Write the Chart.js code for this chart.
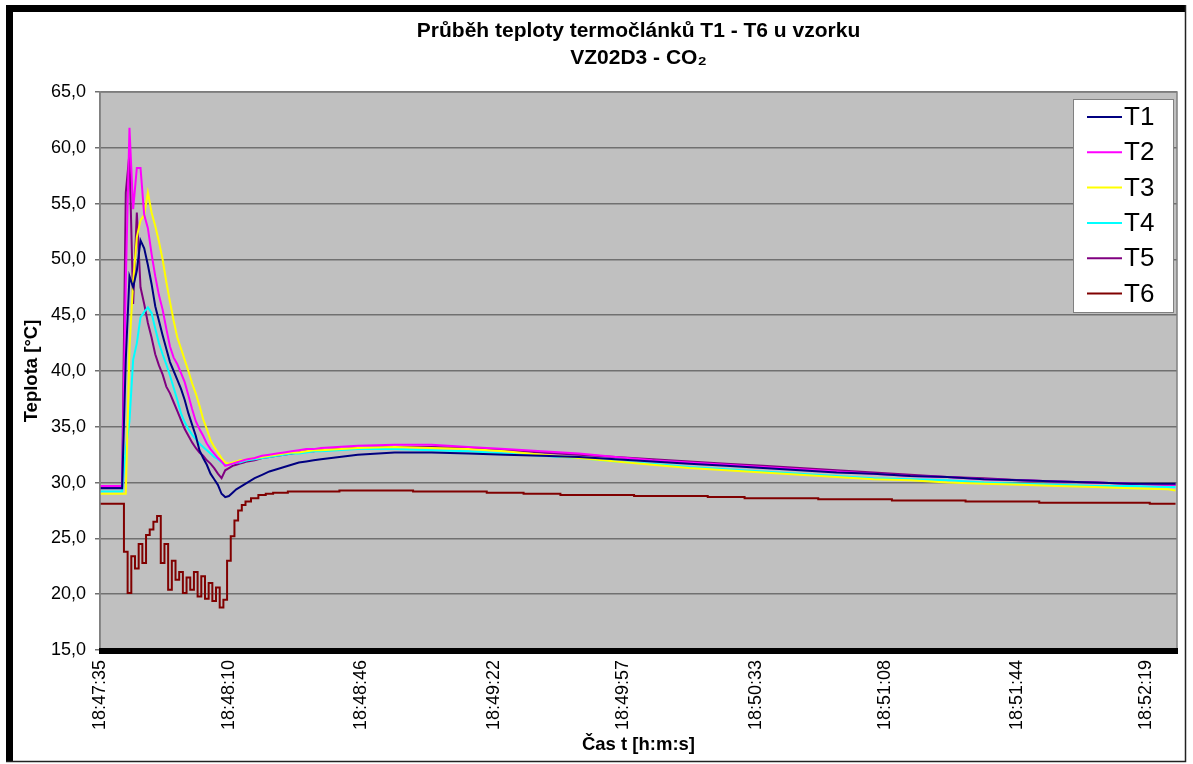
<!DOCTYPE html>
<html>
<head>
<meta charset="utf-8">
<script src="https://cdn.jsdelivr.net/npm/chart.js@4.4.1/dist/chart.umd.min.js"></script>
<style>
  html, body { margin: 0; padding: 0; background: #fff; overflow: hidden; }
</style>
</head>
<body>
<canvas id="graf" width="1193" height="764"></canvas>
<script>
// čas od začátku měření [s]
const secs = [
  0, 1, 2, 3, 4, 5, 6, 7, 8, 9, 10, 11, 12, 13, 14, 15, 16, 17, 18, 19, 20,
  21, 22, 23, 24, 25, 26, 27, 28, 29, 30, 31, 32, 33, 34, 35, 36, 37, 38, 39, 40,
  42, 44, 46, 48, 50, 52, 54, 56, 58, 60,
  70, 80, 90, 100, 110, 120, 130, 140, 150, 160, 170, 180, 190, 200, 210, 220,
  230, 240, 250, 260, 270, 280, 290, 292
];

const T1 = [
  29.5, 29.5, 29.5, 29.5, 29.5, 29.5, 29.5,
  41.0, 48.5, 47.5, 49.0, 51.7, 51.0, 49.5, 47.8, 45.8, 44.5, 43.2, 42.0, 40.8, 40.0,
  39.2, 38.4, 37.4, 36.2, 35.2, 34.2, 32.9, 32.2, 31.6, 30.8, 30.3, 29.8, 29.0, 28.7,
  28.8, 29.1, 29.4, 29.6, 29.8, 30.0,
  30.4, 30.7, 31.0, 31.2, 31.4, 31.6, 31.8, 31.9, 32.0, 32.1,
  32.5, 32.7, 32.7, 32.6, 32.5, 32.4, 32.3, 32.1, 31.9, 31.7, 31.5, 31.3, 31.1, 30.9,
  30.8, 30.6, 30.5, 30.3, 30.2, 30.1, 30.0, 29.9, 29.9, 29.9
];
const T2 = [
  29.7, 29.7, 29.7, 29.7, 29.7, 29.7, 29.7,
  48.0, 61.8, 54.5, 58.2, 58.2, 54.0, 52.8, 50.5, 48.5, 46.8, 45.5, 43.8, 42.2, 41.2,
  40.6, 39.8, 39.0, 37.8, 36.6, 35.5, 34.8, 34.2, 33.5, 33.0, 32.6, 32.2, 31.9, 31.5,
  31.6, 31.7, 31.8, 31.9, 32.0, 32.1,
  32.2, 32.4, 32.5, 32.6, 32.7, 32.8, 32.9, 33.0, 33.0, 33.1,
  33.3, 33.4, 33.4, 33.2, 33.0, 32.8, 32.6, 32.3, 32.0, 31.8, 31.6, 31.4, 31.2, 31.0,
  30.8, 30.6, 30.5, 30.3, 30.2, 30.1, 30.0, 29.9, 29.8, 29.8
];
const T3 = [
  29.0, 29.0, 29.0, 29.0, 29.0, 29.0, 29.0, 29.0,
  42.0, 48.0, 52.0, 53.5, 54.0, 56.0, 54.2, 53.0, 51.6, 50.0, 48.0, 46.2, 44.5,
  43.0, 42.0, 41.0, 40.0, 38.9, 38.0, 36.9, 35.7, 34.8, 33.8, 33.2, 32.7, 32.2, 31.8,
  31.7, 31.8, 31.9, 32.0, 32.0, 32.1,
  32.2, 32.3, 32.4, 32.5, 32.6, 32.7, 32.7, 32.8, 32.9, 32.9,
  33.1, 33.2, 33.1, 33.0, 32.8, 32.5, 32.2, 31.9, 31.6, 31.3, 31.1, 30.9, 30.7, 30.5,
  30.3, 30.2, 30.0, 29.9, 29.8, 29.7, 29.6, 29.5, 29.4, 29.3
];
const T4 = [
  29.2, 29.2, 29.2, 29.2, 29.2, 29.2, 29.2,
  33.0, 35.5, 41.0, 42.5, 44.8, 45.3, 45.7, 45.2, 43.8, 42.5, 41.5, 40.6, 39.6, 38.5,
  37.4, 36.2, 35.4, 34.8, 34.3, 33.9, 33.5, 33.2, 32.9, 32.6, 32.3, 32.1, 31.8, 31.6,
  31.6, 31.7, 31.8, 31.8, 31.9, 32.0,
  32.1, 32.2, 32.3, 32.4, 32.5, 32.6, 32.6, 32.7, 32.8, 32.8,
  33.0, 33.0, 32.9, 32.8, 32.6, 32.4, 32.2, 31.9, 31.7, 31.4, 31.2, 31.0, 30.8, 30.6,
  30.4, 30.3, 30.2, 30.0, 29.9, 29.8, 29.7, 29.7, 29.6, 29.6
];
const T5 = [
  29.6, 29.6, 29.6, 29.6, 29.6, 29.6, 29.6,
  56.0, 59.5, 46.0, 54.2, 47.5, 46.0, 44.3, 43.0, 41.5, 40.5, 39.7, 38.6, 38.0, 37.2,
  36.4, 35.6, 34.8, 34.2, 33.6, 33.1, 32.7, 32.4, 32.0, 31.7, 31.3, 30.8, 30.4, 31.1,
  31.3, 31.5, 31.6, 31.7, 31.8, 31.9,
  32.0, 32.2, 32.3, 32.4, 32.5, 32.6, 32.7, 32.8, 32.8, 32.9,
  33.1, 33.2, 33.2, 33.1, 32.9, 32.7, 32.5, 32.3, 32.1, 31.9, 31.7, 31.5, 31.3, 31.1,
  30.9, 30.7, 30.5, 30.4, 30.2, 30.1, 30.0, 29.9, 29.8, 29.8
];
const T6 = [
  28.1, 28.1, 28.1, 28.1, 28.1, 28.1, 28.1,
  23.8, 20.1, 23.4, 22.3, 24.5, 22.8, 25.3, 25.8, 26.5, 27.0, 22.8, 24.5, 20.4, 23.0,
  21.3, 22.0, 20.1, 21.5, 20.4, 22.0, 19.8, 21.6, 19.6, 21.0, 19.4, 20.6, 18.8, 19.5,
  23.0, 25.2, 26.6, 27.5, 28.0, 28.3,
  28.6, 28.9, 29.0, 29.1, 29.1, 29.2, 29.2, 29.2, 29.2, 29.2,
  29.3, 29.3, 29.2, 29.2, 29.1, 29.0, 28.9, 28.9, 28.8, 28.8, 28.7, 28.6, 28.6, 28.5,
  28.5, 28.4, 28.4, 28.3, 28.3, 28.2, 28.2, 28.2, 28.1, 28.1
];

const seriesNames = ['T1', 'T2', 'T3', 'T4', 'T5', 'T6'];
const seriesColors = ['#000080', '#FF00FF', '#FFFF00', '#00FFFF', '#800080', '#800000'];
const tickLabels = ['18:47:35', '18:48:10', '18:48:46', '18:49:22', '18:49:57',
                    '18:50:33', '18:51:08', '18:51:44', '18:52:19'];

// pozice popisků osy x v sekundách od startu
const toSec = s => { const p = s.split(':').map(Number); return p[0] * 3600 + p[1] * 60 + p[2]; };
const tickSecs = tickLabels.map(l => toSec(l) - toSec(tickLabels[0]));

const FONT = "'Liberation Sans', Arial, sans-serif";
Chart.defaults.font.family = FONT;
Chart.defaults.color = '#000';

const series = [T1, T2, T3, T4, T5, T6];

// pozadí, rámeček, titulek a legenda ve stylu Excelu
const excelLook = {
  id: 'excelLook',
  beforeDraw(chart) {
    const { ctx, chartArea: a } = chart;
    ctx.save();
    ctx.fillStyle = '#fff';
    ctx.fillRect(0, 0, chart.width, chart.height);
    ctx.fillStyle = '#C0C0C0';
    ctx.fillRect(a.left, a.top, a.right - a.left, a.bottom - a.top);
    ctx.restore();
  },
  afterDraw(chart) {
    const { ctx, chartArea: a } = chart;
    ctx.save();
    // okraj plochy grafu
    ctx.strokeStyle = '#808080';
    ctx.lineWidth = 1.5;
    ctx.strokeRect(a.left, a.top, a.right - a.left, a.bottom - a.top);
    // silná osa x
    ctx.fillStyle = '#000';
    ctx.fillRect(a.left - 1, a.bottom - 2, a.right - a.left + 2, 6);

    // vnější rámeček
    ctx.fillRect(6, 5, 1180, 7);
    ctx.fillRect(6, 5, 7, 757);
    ctx.strokeStyle = '#222';
    ctx.lineWidth = 1.5;
    ctx.beginPath();
    ctx.moveTo(1185.5, 5);
    ctx.lineTo(1185.5, 761.5);
    ctx.lineTo(6, 761.5);
    ctx.stroke();

    // titulek
    const cx = (a.left + a.right) / 2;
    ctx.fillStyle = '#000';
    ctx.textAlign = 'center';
    ctx.textBaseline = 'alphabetic';
    ctx.font = 'bold 21px ' + FONT;
    ctx.fillText('Průběh teploty termočlánků T1 - T6 u vzorku', cx, 37);
    ctx.fillText('VZ02D3 - CO₂', cx, 64);

    // legenda
    const lx = 1073, ly = 99, lw = 100, lh = 213, row = 35.3;
    ctx.fillStyle = '#fff';
    ctx.fillRect(lx, ly, lw, lh);
    ctx.strokeStyle = '#808080';
    ctx.lineWidth = 1;
    ctx.strokeRect(lx + 0.5, ly + 0.5, lw, lh);
    ctx.font = '26px ' + FONT;
    ctx.textAlign = 'left';
    ctx.textBaseline = 'middle';
    chart.data.datasets.forEach((ds, i) => {
      const y = ly + 18 + i * row;
      ctx.strokeStyle = ds.borderColor;
      ctx.lineWidth = 2;
      ctx.beginPath();
      ctx.moveTo(lx + 14, y);
      ctx.lineTo(lx + 49, y);
      ctx.stroke();
      ctx.fillStyle = '#000';
      ctx.fillText(ds.label, lx + 51, y + 1);
    });
    ctx.restore();
  }
};

const ctx = document.getElementById('graf').getContext('2d');
new Chart(ctx, {
  type: 'line',
  data: {
    datasets: series.map((vals, i) => ({
      label: seriesNames[i],
      data: vals.map((v, j) => ({ x: secs[j], y: v })),
      borderColor: seriesColors[i],
      borderWidth: 2,
      pointRadius: 0,
      tension: 0,
      // T6 kolísá skokově, ostatní kreslit plynule
      stepped: seriesNames[i] === 'T6' ? 'middle' : false,
      fill: false
    }))
  },
  options: {
    responsive: false,
    animation: false,
    layout: { padding: { left: 17, right: 16, top: 92, bottom: 4 } },
    plugins: {
      legend: { display: false },
      title: { display: false },
      tooltip: { enabled: false }
    },
    scales: {
      x: {
        type: 'linear',
        min: 0,
        max: 292.4,
        afterBuildTicks: scale => { scale.ticks = tickSecs.map(v => ({ value: v })); },
        afterFit: scale => { scale.height = 110; },
        grid: { display: false, drawTicks: false },
        border: { display: false },
        ticks: {
          autoSkip: false,
          minRotation: 90,
          maxRotation: 90,
          padding: 10,
          font: { size: 18 },
          color: '#000',
          callback: (v, i) => tickLabels[i]
        },
        title: {
          display: true,
          text: 'Čas t [h:m:s]',
          font: { size: 18.5, weight: 'bold' },
          color: '#000'
        }
      },
      y: {
        min: 15,
        max: 65,
        afterFit: scale => { scale.width = 83; },
        grid: { color: '#707070', lineWidth: 1.5, drawTicks: true, tickLength: 5, tickColor: '#707070' },
        border: { display: true, color: '#808080', width: 1.5 },
        ticks: {
          stepSize: 5,
          padding: 9,
          font: { size: 18 },
          color: '#000',
          callback: v => v.toFixed(1).replace('.', ',')
        },
        title: {
          display: true,
          text: 'Teplota [°C]',
          font: { size: 18.5, weight: 'bold' },
          color: '#000'
        }
      }
    }
  },
  plugins: [excelLook]
});
</script>
</body>
</html>
